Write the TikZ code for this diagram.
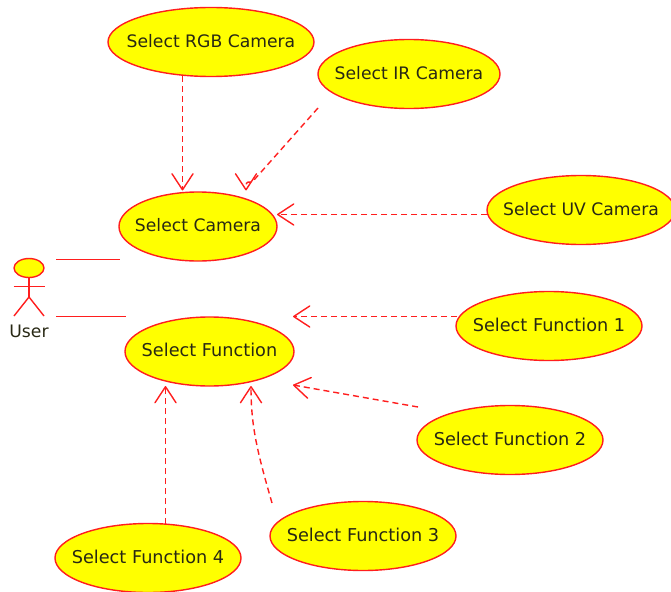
\documentclass[tikz,border=0pt]{standalone}
\usepackage{fontspec}
\setmainfont{DejaVu Sans}
\usetikzlibrary{shapes.geometric,arrows.meta}
\definecolor{umlred}{RGB}{255,30,30}
\definecolor{umlyellow}{RGB}{255,255,0}
\definecolor{umltext}{RGB}{40,40,20}
\newcommand{\uclabel}[2][2pt]{\raisebox{#1}{\makebox[0pt][c]{#2}}}
\tikzset{
  usecase/.style={ellipse,draw=umlred,fill=umlyellow,line width=1.4pt,inner sep=0pt,
    minimum height=69pt,text=umltext,font=\fontsize{17.2}{20}\selectfont},
  fncase/.style={usecase,font=\fontsize{17.7}{20}\selectfont},
  assoc/.style={draw=umlred,line width=1.4pt},
  limb/.style={draw=umlred,line width=1.4pt},
  dep/.style={draw=umlred,line width=1.4pt,dash pattern=on 6pt off 4pt,
    -{Straight Barb[length=16pt,width=21pt,line width=1.4pt,round,sep=0pt]}},
}
\begin{document}
\begin{tikzpicture}[x=1pt,y=-1pt]
\useasboundingbox (0,0) rectangle (671,591);
\begin{scope}
\clip (0,0) rectangle (671,591);
\node[usecase,minimum width=206pt] (rgb) at (211,42) {\uclabel[3pt]{Select RGB Camera}};
\node[usecase,minimum width=182pt] (ir) at (409,74) {\uclabel[3pt]{Select IR Camera}};
\node[usecase,minimum width=158pt] (cam) at (198,226.5) {\uclabel[4pt]{Select Camera}};
\node[usecase,minimum width=188pt] (uv) at (581,210) {\uclabel[3pt]{Select UV Camera}};
\node[fncase,minimum width=169pt] (fn) at (209.5,351.5) {\uclabel[4pt]{Select Function}};
\node[fncase,minimum width=186pt] (fa) at (549,326) {\uclabel{Select Function 1}};
\node[fncase,minimum width=186pt] (fb) at (510,440) {\uclabel{Select Function 2}};
\node[fncase,minimum width=186pt] (fc) at (363,536) {\uclabel{Select Function 3}};
\node[fncase,minimum width=186pt] (fd) at (148,558) {\uclabel{Select Function 4}};
\end{scope}
% actor
\node[ellipse,draw=umlred,fill=umlyellow,line width=1.4pt,inner sep=0pt,minimum width=30pt,minimum height=19pt] (head) at (29,268) {};
\coordinate (armL) at (13.5,286.5);
\coordinate (armR) at (44.5,286.5);
\coordinate (hip) at (29,297);
\coordinate (footL) at (14,316);
\coordinate (footR) at (44,316);
\draw[limb] (head.south) -- (hip);
\draw[limb] (armL) -- (armR);
\draw[limb] (footL) -- (hip) -- (footR);
\node[text=umltext,font=\fontsize{17.2}{20}\selectfont,inner sep=0pt] (user) at (29,331) {User};
% associations
\coordinate (assocA) at (56,259.5);
\coordinate (assocAend) at (120,259.5);
\coordinate (assocB) at (56,316.5);
\coordinate (assocBend) at (126,316.5);
\draw[assoc] (assocA) -- (assocAend);
\draw[assoc] (assocB) -- (assocBend);
% dependencies
\draw[dep] ([shift={(-28.5,34)}]rgb.center) -- ([shift={(-15.5,-36)}]cam.center);
\draw[dep] ([shift={(-91,34)}]ir.center) -- ([shift={(-155,106)}]ir.center) .. controls ([shift={(-160,112)}]ir.center) and ([shift={(48,-50)}]cam.center) .. ([shift={(48,-36)}]cam.center);
\draw[dep] ([shift={(-94,4.5)}]uv.center) -- ([shift={(79,-12)}]cam.center);
\draw[dep] ([shift={(-92,-9.5)}]fa.center) -- ([shift={(83.5,-35)}]fn.center);
\draw[dep] ([shift={(-92,-33)}]fb.center) -- ([shift={(83.5,33.5)}]fn.center);
\draw[dep] ([shift={(-91,-33)}]fc.center) .. controls ([shift={(-106,-85)}]fc.center) and ([shift={(-112,-110)}]fc.center) .. ([shift={(41.5,34.5)}]fn.center);
\draw[dep] ([shift={(17.5,-34)}]fd.center) -- ([shift={(-44,34.5)}]fn.center);
\end{tikzpicture}
\end{document}
